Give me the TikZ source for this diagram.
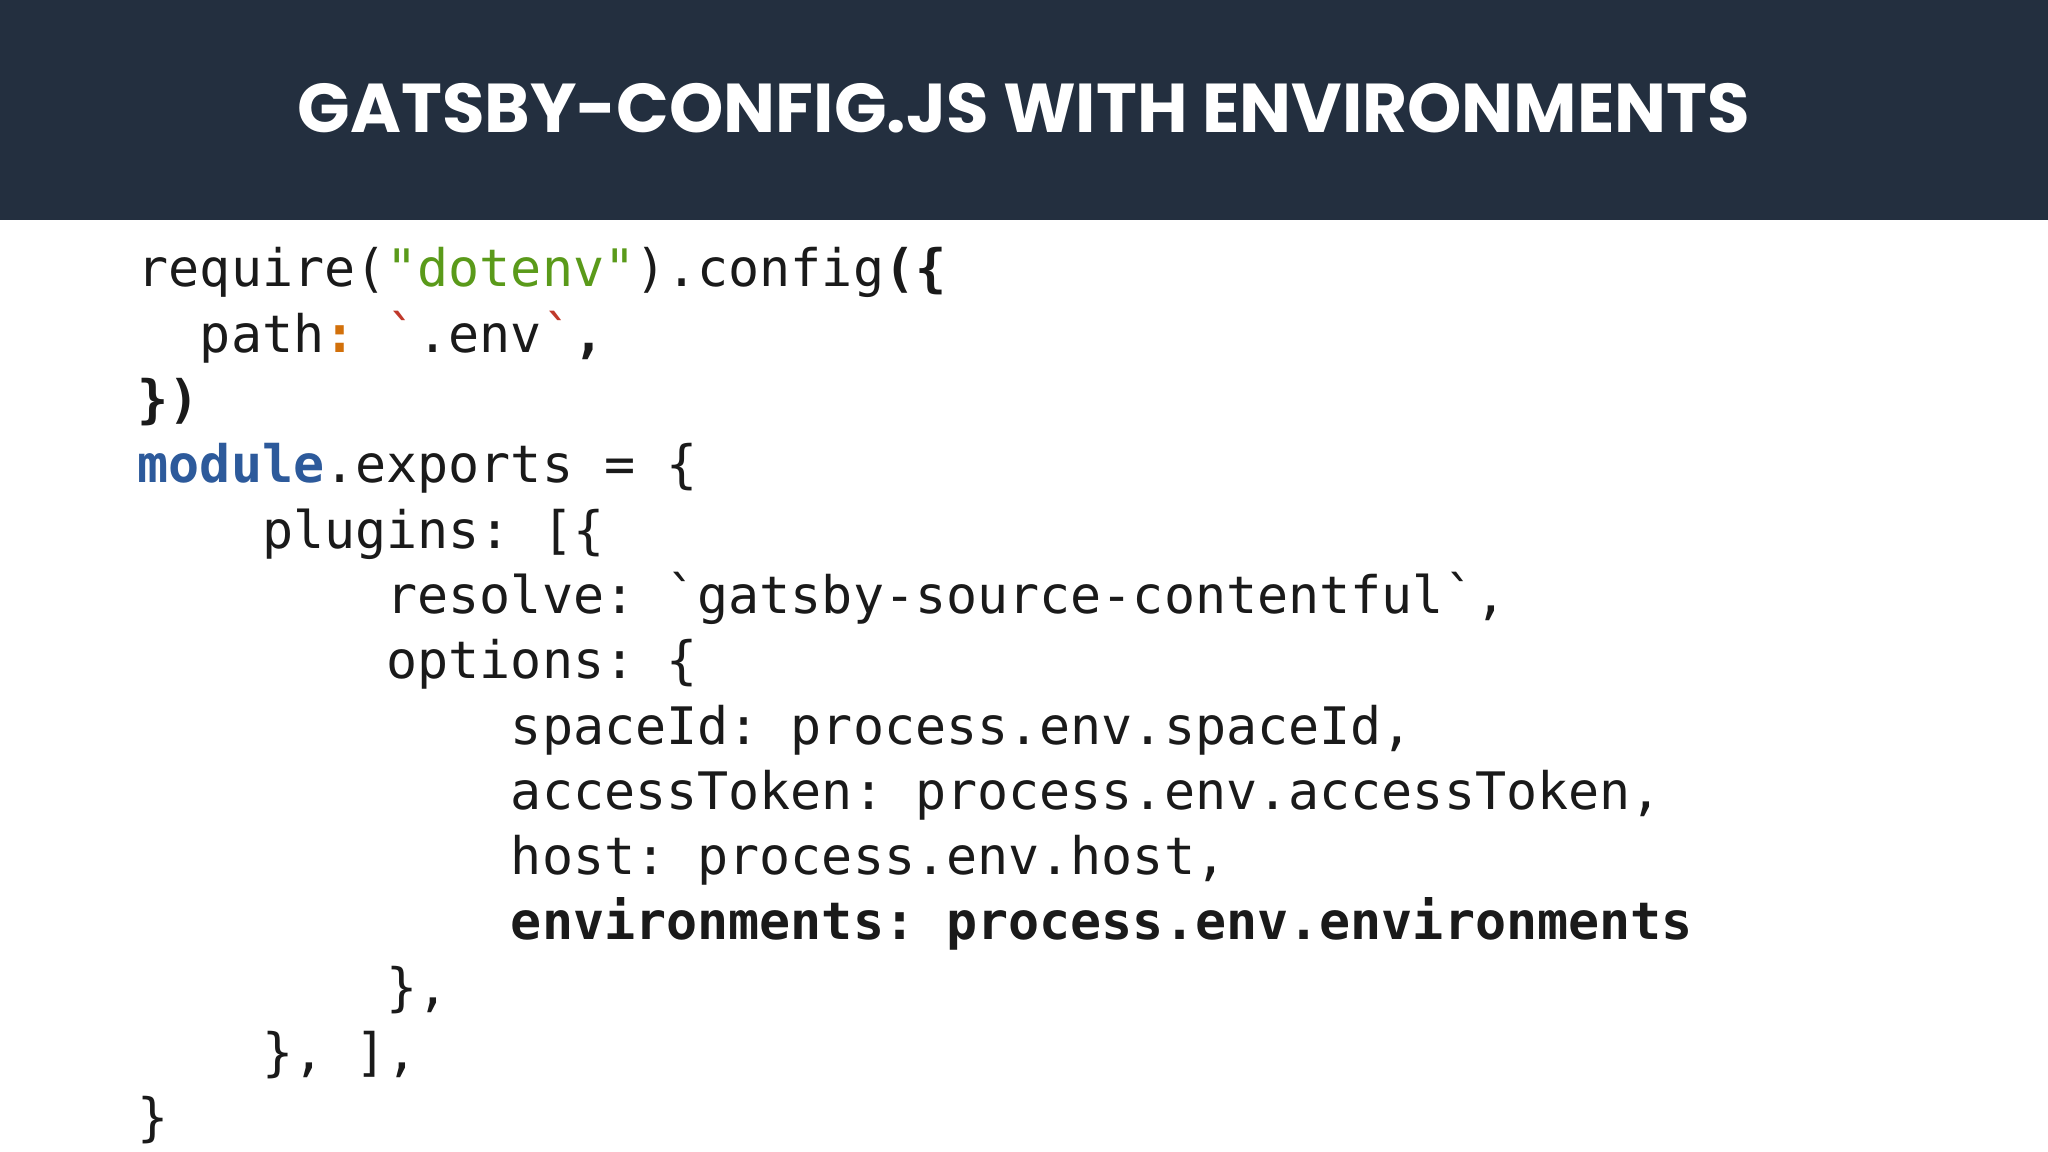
\documentclass[tikz,border=0pt]{standalone}
\usepackage{fontspec}
\setmainfont{Poppins}
\setmonofont{DejaVu Sans Mono}
\definecolor{navy}{HTML}{232F3F}
\definecolor{cgreen}{HTML}{5A9A1A}
\definecolor{corange}{HTML}{D2700A}
\definecolor{cred}{HTML}{C0392B}
\definecolor{cblue}{HTML}{2D5A9B}
\definecolor{ctext}{HTML}{1A1A1A}
\newcommand{\bt}{\char96}
\newcommand{\dq}{\char34}
\tikzset{codeline/.style={anchor=base west,inner sep=0pt,font=\fontsize{14.7}{18}\selectfont\ttfamily,text=ctext}}
\begin{document}
\begin{tikzpicture}
\useasboundingbox (0,0) rectangle (20.48,11.52);
\fill[white] (0,0) rectangle (20.48,11.52);
\fill[navy] (0,9.32) rectangle (20.48,11.52);
\node[text=white,inner sep=0pt,font=\bfseries] (title) at (10.24,10.44) {\resizebox{14.52cm}{!}{GATSBY-CONFIG.JS WITH ENVIRONMENTS}};
\def\lx{1.37}
\node[codeline] (l0) at (\lx,{11.52-2.87-0.653*0}) {require(\textcolor{cgreen}{\dq dotenv\dq}).config\textbf{(\{}};
\node[codeline] (l1) at (\lx,{11.52-2.87-0.653*1}) {\ \ path\textcolor{corange}{\textbf{:}} \textcolor{cred}{\bt}.env\textcolor{cred}{\bt}\textbf{,}};
\node[codeline] (l2) at (\lx,{11.52-2.87-0.653*2}) {\textbf{\})}};
\node[codeline] (l3) at (\lx,{11.52-2.87-0.653*3}) {\textcolor{cblue}{\textbf{module}}.exports = \{};
\node[codeline] (l4) at (\lx,{11.52-2.87-0.653*4}) {\ \ \ \ plugins: [\{};
\node[codeline] (l5) at (\lx,{11.52-2.87-0.653*5}) {\ \ \ \ \ \ \ \ resolve: \bt gatsby-source-contentful\bt,};
\node[codeline] (l6) at (\lx,{11.52-2.87-0.653*6}) {\ \ \ \ \ \ \ \ options: \{};
\node[codeline] (l7) at (\lx,{11.52-2.87-0.653*7}) {\ \ \ \ \ \ \ \ \ \ \ \ spaceId: process.env.spaceId,};
\node[codeline] (l8) at (\lx,{11.52-2.87-0.653*8}) {\ \ \ \ \ \ \ \ \ \ \ \ accessToken: process.env.accessToken,};
\node[codeline] (l9) at (\lx,{11.52-2.87-0.653*9}) {\ \ \ \ \ \ \ \ \ \ \ \ host: process.env.host,};
\node[codeline] (l10) at (\lx,{11.52-2.87-0.653*10}) {\ \ \ \ \ \ \ \ \ \ \ \ \textbf{environments: process.env.environments}};
\node[codeline] (l11) at (\lx,{11.52-2.87-0.653*11}) {\ \ \ \ \ \ \ \ \},};
\node[codeline] (l12) at (\lx,{11.52-2.87-0.653*12}) {\ \ \ \ \}, ],};
\node[codeline] (l13) at (\lx,{11.52-2.87-0.653*13}) {\}};
\end{tikzpicture}
\end{document}
